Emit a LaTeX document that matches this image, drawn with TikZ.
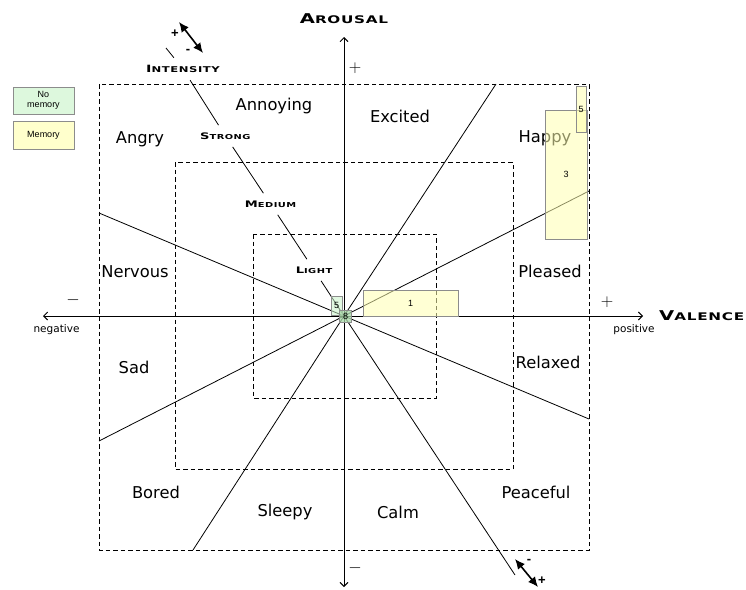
\documentclass[tikz,border=0pt]{standalone}
\usepackage{fontspec}
\usetikzlibrary{arrows.meta}
\newfontfamily\moodfont{DejaVu Sans}
\newfontfamily\smallfont{Liberation Sans}
\newfontfamily\cpfont{DejaVu Sans}[FakeStretch=1.45,LetterSpace=7]
% fake small capitals: first letter big, the rest smaller capitals
\newcommand\fakesc[4]{{\cpfont\bfseries\fontsize{#3}{#3}\selectfont #1\fontsize{#4}{#4}\selectfont #2}}
\definecolor{memfill}{HTML}{FFFFB0}
\definecolor{nomemfill}{HTML}{C8F2C8}
\definecolor{centrefill}{HTML}{A8D8A8}
\definecolor{legmem}{HTML}{FFFFCC}
\definecolor{legnomem}{HTML}{DDF8DD}
\definecolor{barborder}{HTML}{8C8C8C}
\begin{document}
\begin{tikzpicture}[x=1pt,y=-1pt,
  dashedbox/.style={draw, dash pattern=on 4.5pt off 3pt, line width=0.8pt},
  ray/.style={line width=0.8pt},
  axisline/.style={line width=0.9pt, -{Straight Barb[length=4pt,width=8pt]}},
  mood/.style={font=\moodfont\fontsize{16.3}{18}\selectfont, inner sep=0pt},
  sign/.style={font=\fontsize{16}{16}\selectfont, inner sep=0pt},
  polelbl/.style={font=\moodfont\fontsize{10.5}{12}\selectfont, inner sep=0pt},
  level/.style={inner sep=3pt, outer sep=4.5pt},
  bar/.style={draw=barborder, line width=0.7pt, fill opacity=0.55, text opacity=1,
    inner sep=0pt, font=\smallfont\fontsize{9}{10}\selectfont},
  legendbox/.style={draw=barborder, line width=0.7pt, inner sep=0pt,
    minimum width=61, align=center, font=\smallfont\fontsize{9}{10.5}\selectfont},
  intarrow/.style={line width=1.6pt, {Latex[length=10pt,width=9pt]}-{Latex[length=10pt,width=9pt]}},
  pm/.style={font=\smallfont\bfseries\fontsize{13}{13}\selectfont, inner sep=0pt}
]
\useasboundingbox (0,0) rectangle (746,589);

% concentric intensity regions
\draw[dashedbox] (99,84) rectangle (589,550);
\draw[dashedbox] (175,162) rectangle (513,469);
\draw[dashedbox] (253,234) rectangle (436,398);

% axes
\coordinate (o) at (344,316);
\coordinate (xl) at (43,316);
\coordinate (xr) at (643,316);
\coordinate (yt) at (344,37);
\coordinate (yb) at (344,587);
\draw[axisline] (o) -- (xr);
\draw[axisline] (o) -- (xl);
\draw[axisline] (o) -- (yt);
\draw[axisline] (o) -- (yb);

\node (arousal) at (344,19) {\fakesc{A}{ROUSAL}{13.5}{10.5}};
\node[anchor=west, inner sep=0pt] (valence) at (659,316) {\fakesc{V}{ALENCE}{13.5}{10.5}};
\node[polelbl] (neg) at (56.5,330) {negative};
\node[polelbl] (pos) at (634,330) {positive};
\node[sign] (plusy) at (355,68) {$+$};
\node[sign] (minusy) at (355,568) {$-$};
\node[sign] (minusx) at (73,300) {$-$};
\node[sign] (plusx) at (607,302) {$+$};

% rays between the emotion sectors
\coordinate (r1a) at (99,213);  \coordinate (r1b) at (589,419);
\coordinate (r2a) at (99,441);  \coordinate (r2b) at (589,191);
\coordinate (r3a) at (193,550); \coordinate (r3b) at (496,84);
\draw[ray] (r1a) -- (o) -- (r1b);
\draw[ray] (r2a) -- (o) -- (r2b);
\draw[ray] (r3a) -- (o) -- (r3b);

% intensity scale along the fourth ray
\coordinate (r4a) at (166,48);
\coordinate (r4b) at (515,575);
\node[level] (intensity) at (183,69) {\fakesc{I}{NTENSITY}{10}{8}};
\node[level] (strong) at (225.4,136) {\fakesc{S}{TRONG}{9}{6.8}};
\node[level] (medium) at (270.6,204) {\fakesc{M}{EDIUM}{9}{6.8}};
\node[level] (light) at (314,270) {\fakesc{L}{IGHT}{9}{6.8}};
\draw[ray] (r4a) -- (intensity);
\draw[ray] (intensity) -- (strong);
\draw[ray] (strong) -- (medium);
\draw[ray] (medium) -- (light);
\draw[ray] (light) -- (o) -- (r4b);

% direction of the intensity scale
\coordinate (ta1) at (179,22); \coordinate (ta2) at (203,53);
\draw[intarrow] (ta1) -- (ta2);
\node[pm] (tplus) at (175,34) {+};
\node[pm] (tminus) at (188,51) {-};
\coordinate (ba1) at (515,559); \coordinate (ba2) at (538,587);
\draw[intarrow] (ba1) -- (ba2);
\node[pm] (bminus) at (529,561) {-};
\node[pm] (bplus) at (542,581) {+};

% emotion labels
\node[mood] (angry) at (140,139) {Angry};
\node[mood] (annoying) at (274,106) {Annoying};
\node[mood] (excited) at (400,116) {Excited};
\node[mood] (happy) at (545,138) {Happy};
\node[mood] (nervous) at (135,272) {Nervous};
\node[mood] (pleased) at (550,271) {Pleased};
\node[mood] (sad) at (134,367) {Sad};
\node[mood] (relaxed) at (548,362) {Relaxed};
\node[mood] (bored) at (156,492) {Bored};
\node[mood] (sleepy) at (285,512) {Sleepy};
\node[mood] (calm) at (398,512) {Calm};
\node[mood] (peaceful) at (536,492) {Peaceful};

% counts per cell
\node[bar, fill=nomemfill, minimum width=11, minimum height=19] (n5) at (336.5,305.5) {5};
\node[bar, fill=memfill, minimum width=95, minimum height=26] (m1) at (410.5,303) {1};
\node[bar, fill=memfill, minimum width=42, minimum height=129] (m3) at (566,174.5) {3};
\node[bar, fill=memfill, minimum width=10, minimum height=46] (m5) at (581,109) {5};
\node[bar, fill=centrefill, fill opacity=0.75, minimum width=12, minimum height=12] (n8) at (345.5,316) {8};

% legend
\node[legendbox, fill=legnomem, minimum height=27] (legno) at (43.5,100.5) {No\\memory};
\node[legendbox, fill=legmem, minimum height=28] (legyes) at (43.5,135) {Memory};
\end{tikzpicture}
\end{document}
